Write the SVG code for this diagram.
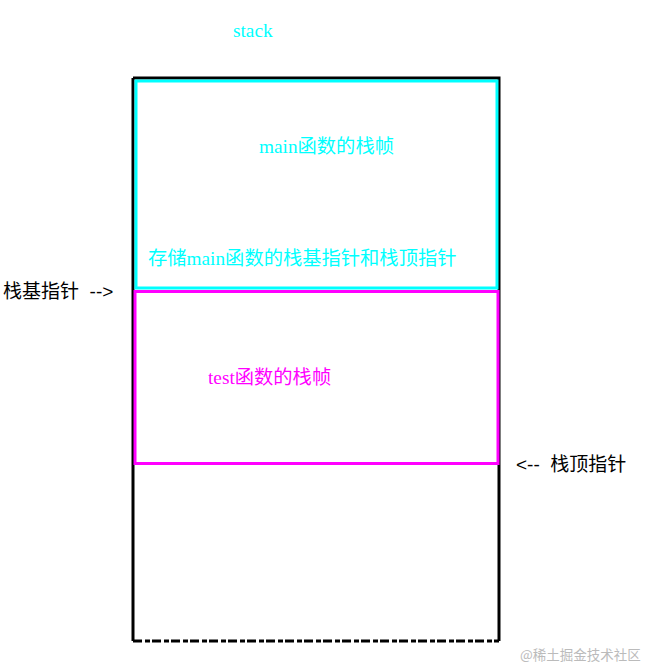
<svg xmlns="http://www.w3.org/2000/svg" width="646" height="668" viewBox="0 0 646 668">
<style>
.serif{font-family:"Liberation Serif","Noto Sans CJK SC",serif;font-size:19.3px;fill:#00ffff}
.sans{font-family:"Liberation Sans","Noto Sans CJK SC",sans-serif;font-size:19px;fill:#000;white-space:pre}
.mag{fill:#ff00ff}
</style>
<rect width="646" height="668" fill="#fff"/>
<g id="stack">
<path d="M133 78 H499 V641 M133 78 V641" fill="none" stroke="#000" stroke-width="3"/>
<line x1="133" y1="641" x2="499" y2="641" stroke="#000" stroke-width="3" stroke-dasharray="9 3 5 2"/>
<text class="serif" x="233" y="37">stack</text>
</g>
<g id="main-frame">
<rect x="136" y="81" width="361" height="207" fill="none" stroke="#00ffff" stroke-width="3"/>
<text class="serif" x="259" y="153">main函数的栈帧</text>
<text class="serif" x="148" y="265">存储main函数的栈基指针和栈顶指针</text>
</g>
<g id="test-frame">
<rect x="135" y="291.5" width="363" height="172" fill="none" stroke="#ff00ff" stroke-width="3"/>
<text class="serif mag" x="208" y="384">test函数的栈帧</text>
</g>
<g id="connectors">
<text class="sans" x="3" y="298" xml:space="preserve">栈基指针  --&gt;</text>
<text class="sans" x="516" y="471" xml:space="preserve">&lt;--  栈顶指针</text>
</g>
<text x="520" y="660" font-family="'Noto Sans CJK SC',sans-serif" font-size="13.5" fill="#bbb">@稀土掘金技术社区</text>
</svg>
